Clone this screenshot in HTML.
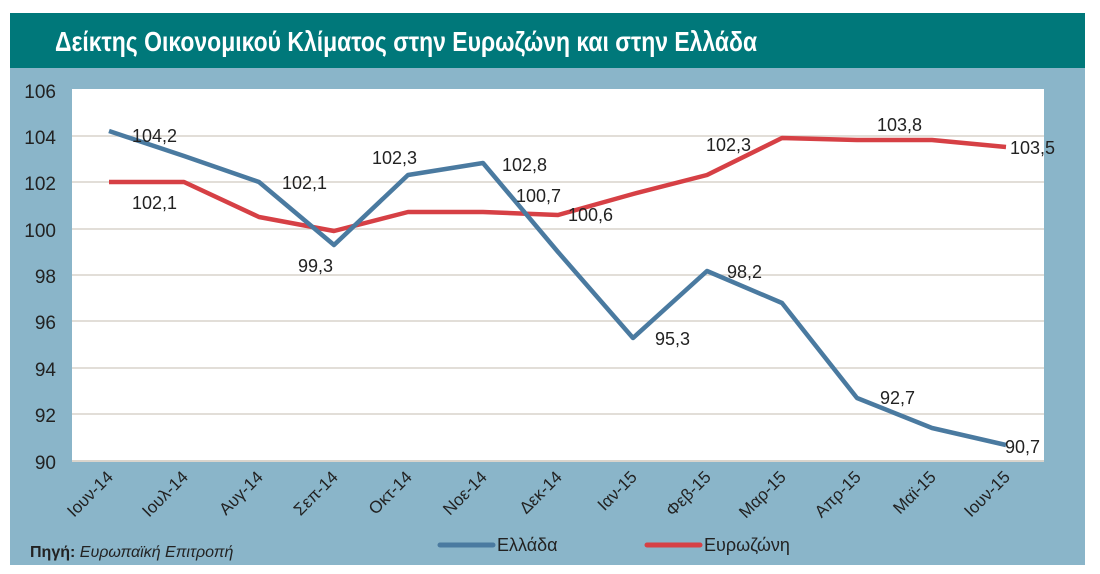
<!DOCTYPE html>
<html><head><meta charset="utf-8"><style>body{margin:0;background:#fff}svg{display:block}</style></head><body>
<svg width="1100" height="574" xmlns="http://www.w3.org/2000/svg" font-family="'Liberation Sans','DejaVu Sans',sans-serif">
<rect x="10" y="13" width="1075" height="552" fill="#8ab5c9"/>
<rect x="10" y="13" width="1075" height="55" fill="#00787a"/>
<text x="55" y="51" fill="#fff" font-size="28" font-weight="bold" transform="translate(55 0) scale(0.82 1) translate(-55 0)">Δείκτης Οικονομικού Κλίματος στην Ευρωζώνη και στην Ελλάδα</text>
<rect x="72" y="89" width="972" height="373" fill="#fff"/>
<g stroke="#d9d4cc" stroke-width="1.5">
<line x1="72" y1="136" x2="1044" y2="136"/><line x1="72" y1="182" x2="1044" y2="182"/><line x1="72" y1="229" x2="1044" y2="229"/><line x1="72" y1="275" x2="1044" y2="275"/><line x1="72" y1="321" x2="1044" y2="321"/><line x1="72" y1="368" x2="1044" y2="368"/><line x1="72" y1="414" x2="1044" y2="414"/><line x1="72" y1="461" x2="1044" y2="461" stroke-width="2"/>
</g>
<g fill="#222" font-size="19" text-anchor="end">
<text x="56" y="98">106</text><text x="56" y="144">104</text><text x="56" y="190">102</text><text x="56" y="237">100</text><text x="56" y="283">98</text><text x="56" y="329">96</text><text x="56" y="376">94</text><text x="56" y="422">92</text><text x="56" y="469">90</text>
</g>
<polyline fill="none" stroke="#d64045" stroke-width="4.5" stroke-linejoin="round" points="109,182 184,182 259,217 334,231 408,212 483,212 558,215 633,194 707,175 782,138 857,140 932,140 1006,147"/>
<polyline fill="none" stroke="#4a7aa0" stroke-width="4.5" stroke-linejoin="round" points="109,131 184,156 259,182 334,245 408,175 483,163 558,252 633,338 707,271 782,303 857,398 932,428 1006,445"/>
<g fill="#222" font-size="18">
<text x="132" y="142">104,2</text><text x="132" y="209">102,1</text><text x="282" y="189">102,1</text><text x="298" y="272">99,3</text><text x="372" y="164">102,3</text><text x="502" y="171">102,8</text><text x="516" y="202">100,7</text><text x="568" y="221">100,6</text><text x="655" y="345">95,3</text><text x="706" y="151">102,3</text><text x="727" y="278">98,2</text><text x="877" y="131">103,8</text><text x="1010" y="154">103,5</text><text x="880" y="404">92,7</text><text x="1005" y="453">90,7</text>
</g>
<g fill="#222" font-size="17">
<text transform="translate(114 478) rotate(-45)" text-anchor="end">Ιουν-14</text>
<text transform="translate(189 478) rotate(-45)" text-anchor="end">Ιουλ-14</text>
<text transform="translate(264 478) rotate(-45)" text-anchor="end">Αυγ-14</text>
<text transform="translate(339 478) rotate(-45)" text-anchor="end">Σεπ-14</text>
<text transform="translate(413 478) rotate(-45)" text-anchor="end">Οκτ-14</text>
<text transform="translate(488 478) rotate(-45)" text-anchor="end">Νοε-14</text>
<text transform="translate(563 478) rotate(-45)" text-anchor="end">Δεκ-14</text>
<text transform="translate(638 478) rotate(-45)" text-anchor="end">Ιαν-15</text>
<text transform="translate(712 478) rotate(-45)" text-anchor="end">Φεβ-15</text>
<text transform="translate(787 478) rotate(-45)" text-anchor="end">Μαρ-15</text>
<text transform="translate(862 478) rotate(-45)" text-anchor="end">Απρ-15</text>
<text transform="translate(937 478) rotate(-45)" text-anchor="end">Μαϊ-15</text>
<text transform="translate(1011 478) rotate(-45)" text-anchor="end">Ιουν-15</text>
</g>
<line x1="440" y1="545" x2="493" y2="545" stroke="#4a7aa0" stroke-width="5" stroke-linecap="round"/>
<text x="497" y="551" font-size="18" fill="#222">Ελλάδα</text>
<line x1="647" y1="545" x2="700" y2="545" stroke="#d64045" stroke-width="5" stroke-linecap="round"/>
<text x="704" y="551" font-size="18" fill="#222">Ευρωζώνη</text>
<text x="30" y="557" font-size="16" fill="#222"><tspan font-weight="bold">Πηγή:</tspan> <tspan font-style="italic">Ευρωπαϊκή Επιτροπή</tspan></text>
</svg>
</body></html>
